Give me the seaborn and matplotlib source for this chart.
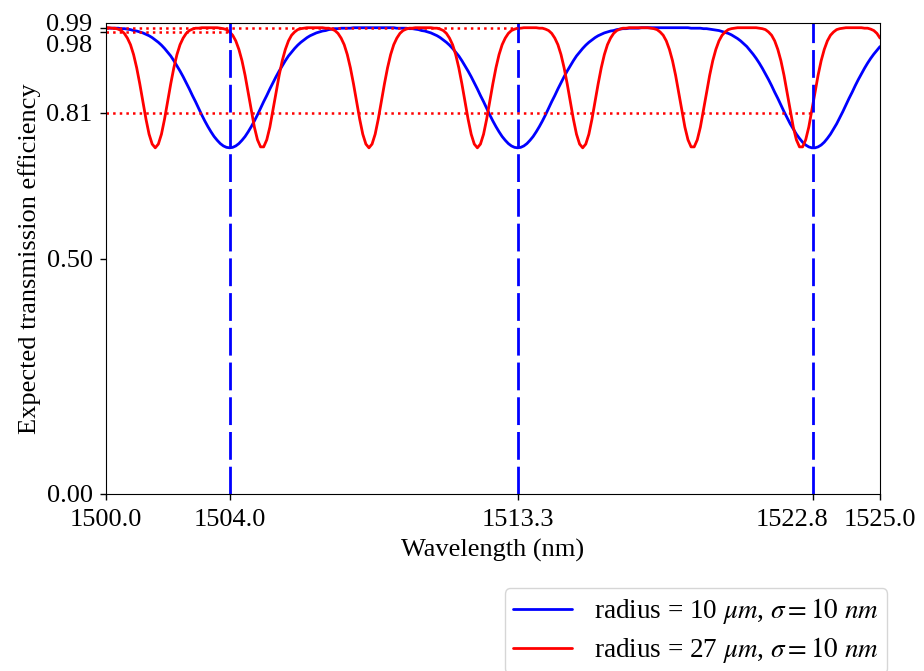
import matplotlib
matplotlib.use("Agg")
import matplotlib.pyplot as plt
import matplotlib.transforms as mtransforms
import numpy as np
import pandas as pd
import seaborn as sns

# wavelength grid (nm), 0.1 nm steps from 1500 to 1525
wavelength = np.round(np.linspace(1500.0, 1525.0, 251), 1)

# expected transmission, radius = 10 um
t_r10 = [
    0.990, 0.989, 0.989, 0.989, 0.989, 0.988, 0.988, 0.987, 0.986, 0.984,
    0.983, 0.981, 0.979, 0.976, 0.973, 0.969, 0.964, 0.959, 0.953, 0.946,
    0.938, 0.930, 0.920, 0.909, 0.898, 0.886, 0.873, 0.860, 0.846, 0.833,
    0.819, 0.805, 0.792, 0.780, 0.769, 0.759, 0.751, 0.744, 0.739, 0.736,
    0.735,
    0.736, 0.739, 0.744, 0.751, 0.759, 0.769, 0.780, 0.792, 0.805, 0.819,
    0.833, 0.846, 0.860, 0.873, 0.886, 0.898, 0.909, 0.920, 0.930, 0.938,
    0.946, 0.953, 0.959, 0.964, 0.969, 0.973, 0.976, 0.979, 0.981, 0.983,
    0.984, 0.986, 0.987, 0.988, 0.988, 0.989, 0.989, 0.989, 0.989, 0.990,
    0.990, 0.990, 0.990, 0.990, 0.990, 0.990, 0.990, 0.990, 0.990, 0.990,
    0.990, 0.990,
    0.990, 0.989, 0.989, 0.989, 0.989, 0.988, 0.988, 0.987, 0.986, 0.984,
    0.983, 0.981, 0.979, 0.976, 0.973, 0.969, 0.964, 0.959, 0.953, 0.946,
    0.938, 0.930, 0.920, 0.909, 0.898, 0.886, 0.873, 0.860, 0.846, 0.833,
    0.819, 0.805, 0.792, 0.780, 0.769, 0.759, 0.751, 0.744, 0.739, 0.736,
    0.735,
    0.736, 0.739, 0.744, 0.751, 0.759, 0.769, 0.780, 0.792, 0.805, 0.819,
    0.833, 0.846, 0.860, 0.873, 0.886, 0.898, 0.909, 0.920, 0.930, 0.938,
    0.946, 0.953, 0.959, 0.964, 0.969, 0.973, 0.976, 0.979, 0.981, 0.983,
    0.984, 0.986, 0.987, 0.988, 0.988, 0.989, 0.989, 0.989, 0.989, 0.990,
    0.990, 0.990, 0.990, 0.990, 0.990, 0.990, 0.990, 0.990, 0.990, 0.990,
    0.990, 0.990, 0.990, 0.990, 0.990,
    0.989, 0.989, 0.989, 0.989, 0.988, 0.988, 0.987, 0.986, 0.985, 0.984,
    0.982, 0.980, 0.978, 0.975, 0.971, 0.967, 0.962, 0.956, 0.950, 0.942,
    0.934, 0.925, 0.915, 0.904, 0.892, 0.880, 0.867, 0.853, 0.840, 0.826,
    0.812, 0.799, 0.786, 0.775, 0.764, 0.755, 0.747, 0.741, 0.737, 0.735,
    0.735, 0.737, 0.741, 0.747, 0.755, 0.764, 0.775, 0.786, 0.799, 0.812,
    0.826, 0.840, 0.853, 0.867, 0.880, 0.892, 0.904, 0.915, 0.925, 0.934,
    0.942, 0.950,
]

# expected transmission, radius = 27 um
t_r27 = [
    0.990, 0.990, 0.989, 0.989, 0.987, 0.984, 0.978, 0.968, 0.954, 0.933,
    0.905, 0.871, 0.833, 0.796, 0.764, 0.743, 0.735, 0.743, 0.764, 0.796,
    0.833, 0.871, 0.905, 0.933, 0.954, 0.968, 0.978, 0.984, 0.987, 0.989,
    0.989, 0.990, 0.990, 0.990, 0.990, 0.990, 0.990, 0.989, 0.988, 0.986,
    0.981, 0.974, 0.962, 0.944, 0.920, 0.889, 0.852, 0.815, 0.779, 0.752,
    0.737, 0.737, 0.752, 0.779, 0.815, 0.852, 0.889, 0.920, 0.944, 0.962,
    0.974, 0.981, 0.986, 0.988, 0.989, 0.990, 0.990, 0.990, 0.990, 0.990,
    0.990, 0.989, 0.989, 0.987, 0.984, 0.978, 0.968, 0.954, 0.933, 0.905,
    0.871, 0.833, 0.796, 0.764, 0.743, 0.735, 0.743, 0.764, 0.796, 0.833,
    0.871, 0.905, 0.933, 0.954, 0.968, 0.978, 0.984, 0.987, 0.989, 0.989,
    0.990, 0.990, 0.990, 0.990, 0.990, 0.990, 0.989, 0.989, 0.987, 0.984,
    0.978, 0.968, 0.954, 0.933, 0.905, 0.871, 0.833, 0.796, 0.764, 0.743,
    0.735, 0.743, 0.764, 0.796, 0.833, 0.871, 0.905, 0.933, 0.954, 0.968,
    0.978, 0.984, 0.987, 0.989, 0.989, 0.990, 0.990, 0.990, 0.990, 0.990,
    0.989, 0.989, 0.987, 0.984, 0.978, 0.968, 0.954, 0.933, 0.905, 0.871,
    0.833, 0.796, 0.764, 0.743, 0.735, 0.743, 0.764, 0.796, 0.833, 0.871,
    0.905, 0.933, 0.954, 0.968, 0.978, 0.984, 0.987, 0.989, 0.989, 0.990,
    0.990, 0.990, 0.990, 0.990, 0.990, 0.990, 0.989, 0.988, 0.986, 0.981,
    0.974, 0.962, 0.944, 0.920, 0.889, 0.852, 0.815, 0.779, 0.752, 0.737,
    0.737, 0.752, 0.779, 0.815, 0.852, 0.889, 0.920, 0.944, 0.962, 0.974,
    0.981, 0.986, 0.988, 0.989, 0.990, 0.990, 0.990, 0.990, 0.990, 0.990,
    0.990, 0.989, 0.988, 0.986, 0.981, 0.974, 0.962, 0.944, 0.920, 0.889,
    0.852, 0.815, 0.779, 0.752, 0.737, 0.737, 0.752, 0.779, 0.815, 0.852,
    0.889, 0.920, 0.944, 0.962, 0.974, 0.981, 0.986, 0.988, 0.989, 0.990,
    0.990, 0.990, 0.990, 0.990, 0.990, 0.989, 0.989, 0.987, 0.984, 0.978,
    0.968,
]

# resonances of the 10 um ring and the 27 um transmission read there
resonances = [1504.02, 1513.31, 1522.84]
levels_at_resonance = [0.98, 0.99, 0.81]

labels = [
    r"radius = 10 $\mu m$, $\sigma = 10\ nm$",
    r"radius = 27 $\mu m$, $\sigma = 10\ nm$",
]
colors = ["blue", "red"]

sns.set_style("ticks", rc={
    "axes.edgecolor": "black",
    "xtick.color": "black",
    "ytick.color": "black",
    "text.color": "black",
    "axes.labelcolor": "black",
    "xtick.direction": "out",
    "ytick.direction": "out",
})
plt.rcParams["font.family"] = ["Liberation Serif", "DejaVu Serif"]
plt.rcParams["mathtext.fontset"] = "stix"
plt.rcParams["font.size"] = 19

fig = plt.figure(figsize=(9.24, 6.71), dpi=100)
ax = fig.add_axes([0.1144, 0.2638, 0.9524 - 0.1144, 0.9657 - 0.2638])

data = pd.DataFrame({"Wavelength": wavelength, "r10": t_r10, "r27": t_r27})
sns.lineplot(data=data, x="Wavelength", y="r10", color=colors[0], lw=2, label=labels[0], ax=ax)
sns.lineplot(data=data, x="Wavelength", y="r27", color=colors[1], lw=2, label=labels[1], ax=ax)

for res in resonances:
    ax.axvline(res, color="blue", lw=2, linestyle=(0, (10, 2.5)))
ax.hlines(levels_at_resonance, 1500, resonances, colors="red", lw=1.8, linestyles=":")

ax.set_xlim(1500, 1525)
ax.set_ylim(0, 1.0)
xticks = [1500] + resonances + [1525]
ax.set_xticks(xticks)
ax.set_xticklabels([f"{v:.1f}" for v in xticks])
yticks = [0.0, 0.5, 0.81, 0.98, 0.99]
ax.set_yticks(yticks)
ax.set_yticklabels([f"{v:.2f}" for v in yticks])
ax.tick_params(labelsize=19, length=4, width=1)
ax.tick_params(axis="x", pad=7)
ax.tick_params(axis="y", pad=5.5)

# nudge the crowded labels apart
for lab, dy in zip(ax.get_yticklabels()[3:], [-8, 4]):
    off = mtransforms.ScaledTranslation(0, dy / 72, fig.dpi_scale_trans)
    lab.set_transform(lab.get_transform() + off)
lab = ax.get_xticklabels()[3]
lab.set_transform(lab.get_transform() + mtransforms.ScaledTranslation(-15 / 72, 0, fig.dpi_scale_trans))

ax.set_xlabel("Wavelength (nm)", fontsize=19, labelpad=5.5)
ax.set_ylabel("Expected transmission efficiency", fontsize=19)

ax.legend(loc="upper right", bbox_to_anchor=(1.009, -0.2), borderaxespad=0,
          fontsize=19.5, handlelength=2.2, labelspacing=0.33, borderpad=0.3)

fig.savefig("out.png", dpi=100)
